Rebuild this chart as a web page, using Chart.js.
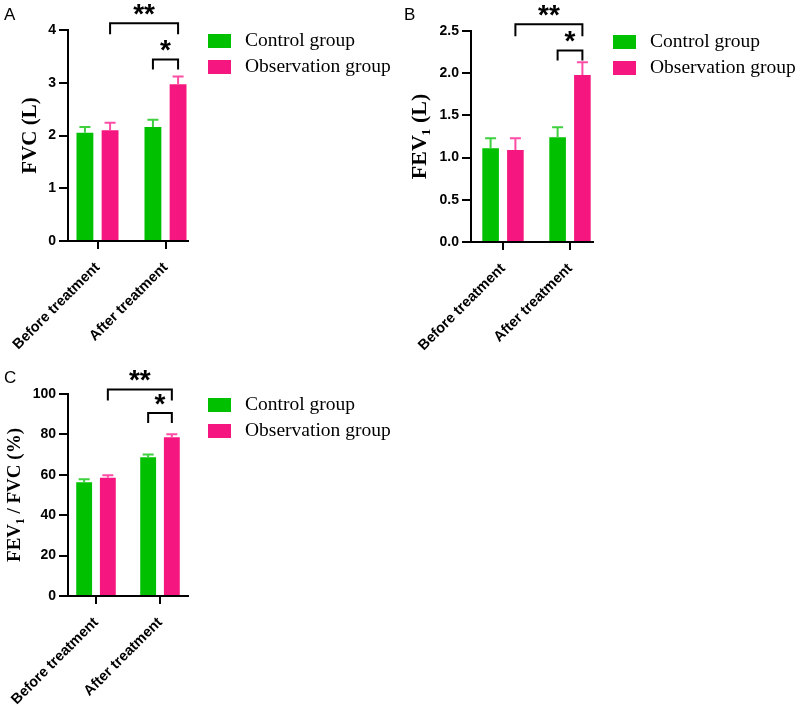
<!DOCTYPE html>
<html><head><meta charset="utf-8">
<script src="https://cdn.jsdelivr.net/npm/chart.js@4.4.1/dist/chart.umd.min.js"></script>
<style>
html,body{margin:0;padding:0;background:#fff;width:800px;height:705px;overflow:hidden}
canvas{position:absolute;left:0;top:0}
</style></head><body>
<canvas id="cA" width="800" height="705"></canvas>
<canvas id="cB" width="800" height="705"></canvas>
<canvas id="cC" width="800" height="705"></canvas>
<script>
// ---- data ----
const categories = ['Before treatment', 'After treatment'];
const seriesNames = ['Control group', 'Observation group'];

const fvcControl = [2.05, 2.16];
const fvcControlSD = [0.11, 0.14];
const fvcObs = [2.10, 2.97];
const fvcObsSD = [0.14, 0.15];

const fev1Control = [1.11, 1.24];
const fev1ControlSD = [0.12, 0.12];
const fev1Obs = [1.09, 1.98];
const fev1ObsSD = [0.14, 0.15];

const ratioControl = [56.3, 68.7];
const ratioControlSD = [1.5, 1.3];
const ratioObs = [58.6, 78.6];
const ratioObsSD = [1.2, 1.5];

const yTicksA = [0, 1, 2, 3, 4];
const yTicksB = [0, 0.5, 1, 1.5, 2, 2.5];
const yTicksC = [0, 20, 40, 60, 80, 100];

const sigLabels = ['**', '*'];

// ---- styles / layout ----
const GREEN = '#00c000', PINK = '#f5177f';
const GREEN_ERR = '#3fd03f', PINK_ERR = '#ff4da6';
Chart.defaults.font.family = "'Liberation Sans', Arial, sans-serif";
Chart.defaults.color = '#000';

const panels = [
  { id: 'cA', letter: 'A', title: 'FVC (L)', titleSize: 21, titlePad: 18.4, origin: [0, 0],
    series: [[fvcControl, fvcControlSD], [fvcObs, fvcObsSD]], ticks: yTicksA, decimals: 0,
    area: {left: 68, top: 30, right: 188, bottom: 241}, band: [63.5, 199.5], letterPos: [4, 20],
    brackets: [{a: [0, 1], b: [1, 1], y: 4.13, drop: 11, label: sigLabels[0]},
               {a: [1, 0], b: [1, 1], y: 3.44, drop: 10, label: sigLabels[1]}] },
  { id: 'cB', letter: 'B', title: 'FEV\u2081 (L)', titleSize: 22, titlePad: 6.8, origin: [400, 0],
    series: [[fev1Control, fev1ControlSD], [fev1Obs, fev1ObsSD]], ticks: yTicksB, decimals: 1,
    area: {left: 71, top: 31, right: 193, bottom: 242}, band: [69.5, 203.5], letterPos: [4, 20],
    brackets: [{a: [0, 1], b: [1, 1], y: 2.58, drop: 12, label: sigLabels[0]},
               {a: [1, 0], b: [1, 1], y: 2.27, drop: 10, label: sigLabels[1]}] },
  { id: 'cC', letter: 'C', title: 'FEV\u2081 / FVC (%)', titleSize: 19, titlePad: 3.6, origin: [0, 352],
    series: [[ratioControl, ratioControlSD], [ratioObs, ratioObsSD]], ticks: yTicksC, decimals: 0,
    area: {left: 68, top: 42, right: 188, bottom: 244}, band: [64, 192], letterPos: [4, 31],
    brackets: [{a: [0, 1], b: [1, 1], y: 102.2, drop: 11, label: sigLabels[0]},
               {a: [1, 0], b: [1, 1], y: 90.6, drop: 10, label: sigLabels[1]}] }
];

// ---- plugins ----
const bandPlugin = {
  id: 'band',
  afterLayout(chart, args, opts) {
    if (!opts || !opts.span) return;
    const s = chart.scales.x;
    s._startPixel = opts.span[0];
    s._endPixel = opts.span[1];
    s._length = opts.span[1] - opts.span[0];
  }
};

const errorBarPlugin = {
  id: 'errorBars',
  afterDatasetsDraw(chart) {
    const ctx = chart.ctx, y = chart.scales.y;
    chart.data.datasets.forEach((ds, i) => {
      const meta = chart.getDatasetMeta(i);
      ctx.save();
      ctx.strokeStyle = ds.errorColor;
      ctx.lineWidth = 2;
      meta.data.forEach((el, j) => {
        const top = y.getPixelForValue(ds.data[j] + ds.errors[j]);
        ctx.beginPath();
        ctx.moveTo(el.x, el.y);
        ctx.lineTo(el.x, top);
        ctx.moveTo(el.x - 5.5, top);
        ctx.lineTo(el.x + 5.5, top);
        ctx.stroke();
      });
      ctx.restore();
    });
  }
};

const annotatePlugin = {
  id: 'annotate',
  afterDraw(chart, args, opts) {
    const ctx = chart.ctx, y = chart.scales.y, area = chart.chartArea;
    ctx.save();
    ctx.strokeStyle = '#000';
    ctx.lineWidth = 2;
    ctx.lineJoin = 'miter';
    (opts.brackets || []).forEach(br => {
      const xa = chart.getDatasetMeta(br.a[1]).data[br.a[0]].x;
      const xb = chart.getDatasetMeta(br.b[1]).data[br.b[0]].x;
      const yt = y.getPixelForValue(br.y);
      ctx.beginPath();
      ctx.moveTo(xa, yt + br.drop);
      ctx.lineTo(xa, yt);
      ctx.lineTo(xb, yt);
      ctx.lineTo(xb, yt + br.drop);
      ctx.stroke();
      ctx.fillStyle = '#000';
      ctx.font = "bold 28px 'Liberation Sans', Arial, sans-serif";
      ctx.textAlign = 'center';
      ctx.textBaseline = 'alphabetic';
      ctx.fillText(br.label, (xa + xb) / 2, yt - 16.5 + 16.4);
    });
    const lx = area.right + 20;
    chart.data.datasets.forEach((ds, i) => {
      const by = area.top + 4 + i * 26;
      ctx.fillStyle = ds.backgroundColor;
      ctx.fillRect(lx, by, 23, 14);
      ctx.fillStyle = '#000';
      ctx.font = "19.5px 'Liberation Serif', 'Times New Roman', serif";
      ctx.textAlign = 'left';
      ctx.textBaseline = 'middle';
      ctx.fillText(ds.label, lx + 37, by + 7);
    });
    ctx.fillStyle = '#000';
    ctx.font = "17px 'Liberation Sans', Arial, sans-serif";
    ctx.textAlign = 'left';
    ctx.textBaseline = 'alphabetic';
    ctx.fillText(opts.letter, opts.letterPos[0], opts.letterPos[1]);
    ctx.restore();
  }
};

// ---- charts ----
panels.forEach(p => {
  const cv = document.getElementById(p.id);
  const W = cv.width, H = cv.height;
  const ox = p.origin[0], oy = p.origin[1];
  const L = p.area.left + ox, T = p.area.top + oy, R = p.area.right + ox, B = p.area.bottom + oy;
  const X_AXIS_H = Math.min(130, H - B);
  const colors = [GREEN, PINK], errColors = [GREEN_ERR, PINK_ERR];
  new Chart(cv, {
    type: 'bar',
    data: {
      labels: categories,
      datasets: p.series.map((s, i) => ({
        label: seriesNames[i],
        data: s[0],
        errors: s[1],
        backgroundColor: colors[i],
        errorColor: errColors[i],
        borderWidth: 0,
        categoryPercentage: 0.74,
        barPercentage: 0.67
      }))
    },
    options: {
      responsive: false,
      animation: false,
      events: [],
      layout: { padding: { left: ox, top: T, right: W - R, bottom: H - B - X_AXIS_H } },
      plugins: {
        legend: { display: false },
        tooltip: { enabled: false },
        band: { span: [p.band[0] + ox, p.band[1] + ox] },
        annotate: { brackets: p.brackets, letter: p.letter, letterPos: [p.letterPos[0] + ox, p.letterPos[1] + oy] }
      },
      scales: {
        x: {
          type: 'category',
          offset: true,
          grid: { display: true, drawOnChartArea: false, drawTicks: true, tickLength: 8, lineWidth: 2, color: '#000', offset: false },
          border: { display: true, color: '#000', width: 2 },
          ticks: { font: { size: 14.5, weight: 'bold' }, color: '#000', minRotation: 45, maxRotation: 45, autoSkip: false, padding: 10 },
          afterFit(scale) { scale.height = X_AXIS_H; scale.paddingLeft = 0; scale.paddingRight = 0; }
        },
        y: {
          type: 'linear',
          min: p.ticks[0],
          max: p.ticks[p.ticks.length - 1],
          afterBuildTicks(axis) { axis.ticks = p.ticks.map(v => ({ value: v })); },
          grid: { display: true, drawOnChartArea: false, drawTicks: true, tickLength: 9, lineWidth: 2, color: '#000' },
          border: { display: true, color: '#000', width: 2 },
          ticks: { font: { size: 14, weight: 'bold' }, color: '#000', padding: 3,
                   callback: v => Number(v).toFixed(p.decimals) },
          title: { display: true, text: p.title, color: '#000',
                   font: { family: "'Liberation Serif', 'Times New Roman', serif", size: p.titleSize, weight: 'bold' },
                   padding: { top: p.titlePad, bottom: 0 } },
          afterFit(scale) { scale.width = p.area.left; scale.paddingTop = 0; scale.paddingBottom = 0; }
        }
      }
    },
    plugins: [bandPlugin, errorBarPlugin, annotatePlugin]
  });
});
</script>
</body></html>
